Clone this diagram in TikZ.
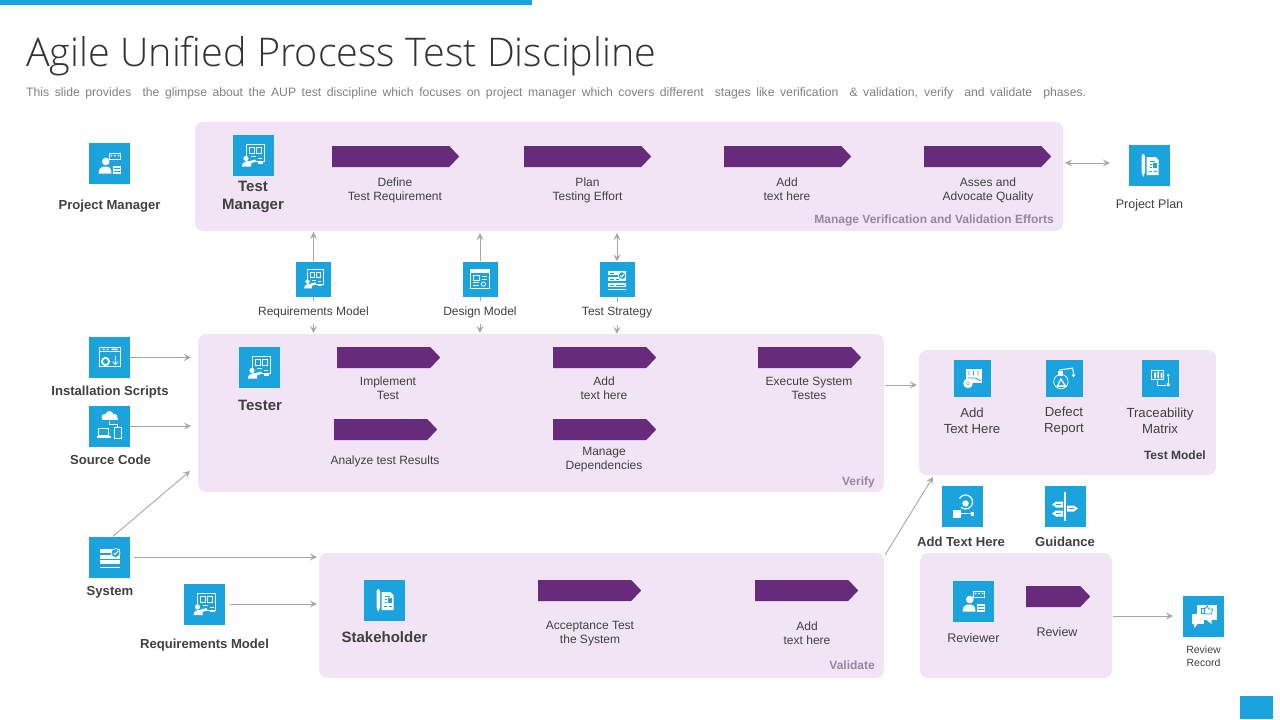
\documentclass[tikz,border=0pt]{standalone}
\usepackage{fontspec}
\setmainfont{Liberation Sans}
\newfontfamily\titlefont{Open Sans Light}
\usetikzlibrary{arrows.meta, shapes.symbols}
\definecolor{slideBlue}{RGB}{27,163,221}
\definecolor{panelLilac}{RGB}{240,228,245}
\definecolor{chevPurple}{RGB}{104,42,122}
\definecolor{labelGrey}{RGB}{64,64,64}
\definecolor{noteGrey}{RGB}{128,128,128}
\definecolor{tagGrey}{RGB}{150,135,160}
\definecolor{lineGrey}{RGB}{166,166,166}

\tikzset{
	glyph/.style={draw=white, line width=0.7pt, fill=none},
	whitefill/.style={fill=white, draw=none},
	% person in front of a board
	personBoard/.pic={
		\draw[glyph] (-7,-11) rectangle (11,6);
		\draw[glyph] (-4,-8) rectangle (1,-2);
		\draw[glyph] (3,-8) rectangle (8,-2);
		\draw[glyph] (-2,1) -- (3,1) (5,3) -- (9,3);
		\fill[whitefill] (-7,3) circle (2.6);
		\fill[whitefill] (-11,11) .. controls (-11,7) and (-8,6) .. (-5,6) -- (2,4) -- (3,6) -- (-2,8) -- (-2,11) -- cycle;
		\fill[whitefill] (5,6) rectangle (10,8);
	},
	% woman with bubble and sheet
	womanDoc/.pic={
		\fill[whitefill] (-3.7,-2) circle (3.8);
		\fill[whitefill] (-11,10) .. controls (-11,4) and (-7,3) .. (-4,3) .. controls (-1,3) and (2,4) .. (2,10) -- cycle;
		\draw[glyph] (0,-10) rectangle (11,-4);
		\fill[whitefill] (2,-8) circle (1) (5.5,-8) circle (1) (9,-8) circle (1);
		\fill[whitefill] (3,2) rectangle (11,10);
		\draw[slideBlue, line width=0.6pt] (4,5) -- (10,5) (4,7.5) -- (10,7.5);
	},
	gearWin/.pic={
		\draw[glyph] (-10,-10) rectangle (10.5,9);
		\draw[glyph] (-10,-6) -- (10.5,-6);
		\fill[whitefill] (-7,-9) rectangle (-5,-7.5) (-3,-9) rectangle (-1,-7.5) (2,-9) rectangle (8,-7.5);
		\draw[white, line width=1.8pt] (-4,4) circle (3.6);
		\draw[white, line width=1pt] (6,-2) -- (6,6);
		\draw[white, line width=1pt] (3,4) -- (6,7) -- (9,4);
	},
	cloudDev/.pic={
		\fill[whitefill] (-8,-6) rectangle (8,-8);
		\fill[whitefill] (-5,-9) circle (3) (0,-11) circle (4) (5,-9) circle (3);
		\draw[glyph] (-11,2) rectangle (-1,9);
		\draw[white, line width=1.2pt] (-13,11) -- (1,11);
		\draw[glyph] (5,1) rectangle (12,12);
		\draw[glyph] (0,-5) -- (0,-2) -- (8,-2) -- (8,1);
	},
	serverCheck/.pic={
		\fill[whitefill] (-10,-8) rectangle (10.5,-4);
		\fill[whitefill] (-10,-2.5) rectangle (10.5,1.5);
		\fill[whitefill] (-10,3) rectangle (10.5,7);
		\draw[glyph, fill=slideBlue] (6,-4) circle (4.5);
		\draw[white, line width=1pt] (4,-4) -- (5.5,-2.5) -- (8.5,-6);
		\draw[white, line width=0.7pt] (-10,10) -- (10.5,10);
	},
	% sheet with a pen beside it
	docPen/.pic={
		\fill[whitefill] (-3,-8) -- (6,-8) -- (9,-5) -- (9,10) -- (-3,10) -- cycle;
		\draw[slideBlue, line width=0.8pt] (0,-4) -- (5,-4) (0,-1) -- (2,-1) (0,2) -- (2,2) (-1,6) -- (2,6) (4,6) -- (7,6);
		\fill[slideBlue] (3,-2) rectangle (7,3);
		\fill[whitefill] (-8,-8) .. controls (-8,-12) and (-4.5,-12) .. (-4.5,-8) -- (-4.5,7) -- (-6.2,12) -- (-8,7) -- cycle;
	},
	designWin/.pic={
		\draw[glyph] (-11,-11) rectangle (11,11);
		\fill[whitefill] (-11,-11) rectangle (11,-7);
		\draw[glyph] (-8,-4) rectangle (-1,1);
		\draw[white, line width=0.8pt] (2,-3) -- (8,-3) (2,0) -- (8,0) (-8,4) -- (-1,4) (-8,7) -- (-1,7);
		\draw[glyph] (4,6) circle (2.5);
	},
	stratList/.pic={
		\fill[whitefill] (-11,-9) rectangle (11,-5);
		\fill[whitefill] (-11,-2) rectangle (11,2);
		\fill[whitefill] (-11,5) rectangle (11,9);
		\draw[slideBlue, line width=0.8pt] (-8,-7) -- (-4,-7) (-8,0) -- (-4,0) (-1,0) -- (2,0) (-8,7) -- (-4,7) (-1,7) -- (9,7);
		\draw[glyph, fill=slideBlue] (6,-4) circle (4.5);
		\draw[white, line width=1pt] (4,-4) -- (5.5,-2.5) -- (8.5,-6);
		\draw[white, line width=0.7pt] (-11,12) -- (11,12);
	},
	chartGear/.pic={
		\fill[whitefill] (-7,-10) rectangle (11,5);
		\draw[slideBlue, line width=0.8pt] (-4,-8) -- (-4,-3) (1,-8) -- (1,-3) (6,-8) -- (6,-3) (-5,0) -- (3,0) -- (9,3);
		\draw[white, line width=3pt, fill=slideBlue] (-5,6) circle (3.5);
		\fill[whitefill] (-5,6) circle (1.2);
	},
	robotArm/.pic={
		\draw[white, line width=1.3pt] (-8,9) -- (-4,1) -- (1,9) -- cycle;
		\fill[whitefill] (-7,-8) rectangle (-2,-2);
		\draw[white, line width=1pt] (-5,-3) -- (-5,-9) -- (9,-11) -- (10,-5);
		\fill[whitefill] (10,-3) circle (2);
		\draw[glyph] (-4,4) circle (8);
	},
	gridChart/.pic={
		\draw[glyph] (-10,-8) rectangle (3,2);
		\fill[whitefill] (-7,-6) rectangle (-5,0) (-3.5,-7) rectangle (-1.5,0) (0,-6) rectangle (2,0);
		\fill[whitefill] (8.5,-3) circle (1.6) (7,6) rectangle (10,9);
		\draw[white, line width=0.6pt] (8.5,-1) -- (8.5,5);
		\draw[white, line width=0.6pt] (-4,3) -- (-4,8) -- (6,8);
	},
	discBox/.pic={
		\draw[white, line width=1.2pt] (-3,-8) arc (-150:130:7);
		\fill[whitefill] (3,-3) circle (3.2);
		\fill[whitefill] (-10,3) rectangle (-2,11);
		\draw[white, line width=1pt] (-2,7) -- (9,7);
		\fill[whitefill] (8,5) rectangle (11,9);
	},
	signPost/.pic={
		\fill[whitefill] (-0.8,-15) rectangle (0.8,14);
		\fill[whitefill] (-2,-5) -- (-9,-5) -- (-13,-2) -- (-9,1) -- (-2,1) -- cycle;
		\fill[whitefill] (2,-1) -- (9,-1) -- (13,2) -- (9,5) -- (2,5) -- cycle;
		\fill[whitefill] (-2,4) -- (-9,4) -- (-13,7) -- (-9,10) -- (-2,10) -- cycle;
		\draw[slideBlue, line width=0.6pt] (-9,-2) -- (-4,-2) (4,2) -- (9,2) (-9,7) -- (-4,7);
	},
	thumbBubble/.pic={
		\fill[whitefill] (-7,-11) rectangle (13,4);
		\fill[whitefill] (3,4) -- (8,4) -- (8,8) -- cycle;
		\draw[slideBlue, line width=0.8pt] (-2,-3) rectangle (1,-7.5);
		\draw[slideBlue, line width=0.8pt] (1,-7) -- (4,-10) -- (5,-7) -- (9,-7) -- (8,-2) -- (1,-2);
		\fill[whitefill] (-12,-2) rectangle (0,8);
		\fill[whitefill] (-10,8) -- (-6,8) -- (-9,12) -- cycle;
	}
}

\begin{document}
\begin{tikzpicture}[
		x=1pt, y=-1pt,
		% boxes and icons
		panel/.style={
			rectangle, rounded corners=8pt,
			fill=panelLilac,
			inner sep=0pt
		},
		iconBox/.style={
			rectangle,
			minimum size=41pt,
			inner sep=0pt,
			fill=slideBlue
		},
		smallIcon/.style={
			iconBox,
			minimum size=35pt
		},
		midIcon/.style={
			iconBox,
			minimum size=37pt
		},
		chevron/.style={
			signal, signal to=east,
			signal pointer angle=93,
			anchor=west,
			minimum height=21pt,
			inner sep=0pt,
			fill=chevPurple
		},
		% texts
		txt/.style={
			align=center, inner sep=0pt,
			text=labelGrey,
			font=\fontsize{12}{14}\selectfont
		},
		overTxt/.style={
			txt,
			fill=white,
			minimum height=23pt
		},
		midTxt/.style={
			txt,
			font=\fontsize{13.2}{16}\selectfont
		},
		boldTxt/.style={
			txt,
			font=\fontsize{13.1}{15}\selectfont\bfseries
		},
		roleTxt/.style={
			txt,
			font=\fontsize{15}{18}\selectfont\bfseries
		},
		tagTxt/.style={
			txt, anchor=east,
			text=tagGrey,
			font=\fontsize{12}{14}\selectfont\bfseries
		},
		% connectors
		flow/.style={
			draw=lineGrey, line width=0.9pt,
			-{Stealth[length=7pt, width=7pt, inset=3pt]}
		},
		flowBoth/.style={
			flow,
			{Stealth[length=7pt, width=7pt, inset=3pt]}-{Stealth[length=7pt, width=7pt, inset=3pt]}
		}
		]
		\useasboundingbox (0,0) rectangle (1280,720);
		
		% title part
		\fill[slideBlue] (0,0) rectangle (532,5);
		\fill[slideBlue] (1240,696) rectangle (1273,719);
		\node[anchor=base west, inner sep=0pt, text=black!80, font=\titlefont\fontsize{39.5}{44}\selectfont] (title) at (26,66) {Agile Unified Process Test Discipline};
		\node[anchor=west, inner sep=0pt, text=noteGrey, font=\fontsize{12.2}{14}\selectfont] (subtitle) at (26,93) {\makebox[1060pt][s]{This slide provides\ \ the glimpse about the AUP test discipline which focuses on project manager which covers different\ \ stages like verification\ \ \& validation, verify\ \ and validate\ \ phases.}};
		
		% the five panels
		\node[panel, minimum width=868pt, minimum height=109pt] (managePanel) at (629,176.5) {};
		\node[panel, minimum width=686pt, minimum height=158pt] (verifyPanel) at (541,413) {};
		\node[panel, minimum width=565pt, minimum height=125pt] (validatePanel) at (601.5,615.5) {};
		\node[panel, minimum width=297pt, minimum height=125pt] (modelPanel) at (1067.5,412.5) {};
		\node[panel, minimum width=192pt, minimum height=125pt] (reviewPanel) at (1016,615.5) {};
		
		% top row
		\node[iconBox] (managerIcon) at (109.5,163.5) {};
		\pic at (managerIcon) {womanDoc};
		\node[boldTxt] (managerTxt) at (109.5,206) {Project Manager};
		\node[iconBox] (testerBossIcon) at (253,155.5) {};
		\pic at (testerBossIcon) {personBoard};
		\node[roleTxt] (testerBossTxt) at (253,196.5) {Test\\Manager};
		\node[chevron, minimum width=127pt] (defineChev) at (332,156.5) {};
		\node[txt] (defineTxt) at (395,190) {Define\\Test Requirement};
		\node[chevron, minimum width=127pt] (planChev) at (524,156.5) {};
		\node[txt] (planTxt) at (587.5,190) {Plan\\Testing Effort};
		\node[chevron, minimum width=127pt] (addChev) at (724,156.5) {};
		\node[txt] (addTxt) at (787,189) {Add\\text here};
		\node[chevron, minimum width=127pt] (assessChev) at (924,156.5) {};
		\node[txt] (assessTxt) at (988,190) {Asses and\\Advocate Quality};
		\node[tagTxt] (manageTag) at (1054,220) {Manage Verification and Validation Efforts};
		\node[iconBox] (planIcon) at (1149.5,165) {};
		\pic at (planIcon) {docPen};
		\node[txt, font=\fontsize{12.5}{15}\selectfont] (planLabel) at (1149.5,205) {Project Plan};
		
		% artefacts between the panels
		\node[smallIcon] (reqIcon) at (313.5,279) {};
		\pic[scale=.85] at (reqIcon) {personBoard};
		\node[smallIcon] (designIcon) at (480,279) {};
		\pic[scale=.85] at (designIcon) {designWin};
		\node[smallIcon] (strategyIcon) at (617,279) {};
		\pic[scale=.85] at (strategyIcon) {stratList};
		\draw[flow, shorten >=1pt] (reqIcon.south) -- (verifyPanel.north -| reqIcon);
		\draw[flow, shorten >=1pt] (designIcon.south) -- (verifyPanel.north -| designIcon);
		\draw[flow] (strategyIcon.south) -- (verifyPanel.north -| strategyIcon);
		\node[overTxt] (reqTxt) at (313.5,312) {Requirements Model};
		\node[overTxt] (designTxt) at (480,312) {Design Model};
		\node[overTxt] (strategyTxt) at (617,313) {Test Strategy};
		
		% left inputs
		\node[iconBox] (scriptIcon) at (109.5,357.5) {};
		\pic at (scriptIcon) {gearWin};
		\node[boldTxt] (scriptTxt) at (110,392) {Installation Scripts};
		\node[iconBox] (sourceIcon) at (109.5,426) {};
		\pic at (sourceIcon) {cloudDev};
		\node[boldTxt] (sourceTxt) at (110.5,460) {Source Code};
		\node[iconBox] (systemIcon) at (109.5,557) {};
		\pic at (systemIcon) {serverCheck};
		\node[boldTxt] (systemTxt) at (110,592) {System};
		\node[iconBox] (inputIcon) at (204.5,604) {};
		\pic at (inputIcon) {personBoard};
		\node[boldTxt] (inputTxt) at (204.5,645) {Requirements Model};
		
		% verify panel
		\node[iconBox] (testerIcon) at (259,367.5) {};
		\pic at (testerIcon) {personBoard};
		\node[roleTxt] (testerTxt) at (260,405) {Tester};
		\node[chevron, minimum width=103pt] (implementChev) at (337,357.5) {};
		\node[txt] (implementTxt) at (388,388) {Implement\\Test};
		\node[chevron, minimum width=103pt] (hereChev) at (553,357.5) {};
		\node[txt] (hereTxt) at (604,388) {Add\\text here};
		\node[chevron, minimum width=103pt] (executeChev) at (758,357.5) {};
		\node[txt] (executeTxt) at (809,388) {Execute System\\Testes};
		\node[chevron, minimum width=103pt] (analyzeChev) at (334,429.5) {};
		\node[txt] (analyzeTxt) at (385,461) {Analyze test Results};
		\node[chevron, minimum width=103pt] (dependChev) at (553,429.5) {};
		\node[txt] (dependTxt) at (604,460) {Manage\\Dependencies};
		\node[tagTxt] (verifyTag) at (875,482) {Verify};
		
		% validate panel
		\node[iconBox] (holderIcon) at (384.5,600) {};
		\pic at (holderIcon) {docPen};
		\node[roleTxt] (holderTxt) at (384.5,637) {Stakeholder};
		\node[chevron, minimum width=103pt] (acceptChev) at (538,590.5) {};
		\node[txt] (acceptTxt) at (590,634) {Acceptance Test\\the System};
		\node[chevron, minimum width=103pt] (moreChev) at (755,590.5) {};
		\node[txt] (moreTxt) at (807,633) {Add\\text here};
		\node[tagTxt] (validateTag) at (875,665) {Validate};
		
		% test model panel
		\node[midIcon] (chartIcon) at (972.5,378) {};
		\pic[scale=.9] at (chartIcon) {chartGear};
		\node[midTxt] (chartTxt) at (972,420.5) {Add\\Text Here};
		\node[midIcon] (defectIcon) at (1064.5,378) {};
		\pic[scale=.9] at (defectIcon) {robotArm};
		\node[midTxt] (defectTxt) at (1064,421) {Defect\\Report};
		\node[midIcon] (traceIcon) at (1160.5,378) {};
		\pic[scale=.9] at (traceIcon) {gridChart};
		\node[midTxt] (traceTxt) at (1160,420.5) {Traceability\\Matrix};
		\node[tagTxt, text=labelGrey] (modelTag) at (1206,455) {Test Model};
		
		% below the test model
		\node[iconBox] (discIcon) at (962.5,506.5) {};
		\pic at (discIcon) {discBox};
		\node[boldTxt] (discTxt) at (961,542) {Add Text Here};
		\node[iconBox] (guideIcon) at (1065,506.5) {};
		\pic at (guideIcon) {signPost};
		\node[boldTxt] (guideTxt) at (1065,542) {Guidance};
		
		% review panel
		\node[iconBox] (reviewerIcon) at (973.5,601.5) {};
		\pic at (reviewerIcon) {womanDoc};
		\node[txt, font=\fontsize{12.5}{15}\selectfont] (reviewerTxt) at (973.5,638) {Reviewer};
		\node[chevron, minimum width=64pt] (reviewChev) at (1026,596.5) {};
		\node[txt, font=\fontsize{12.5}{15}\selectfont] (reviewTxt) at (1057,632.5) {Review};
		\node[iconBox] (recordIcon) at (1203.5,616) {};
		\pic at (recordIcon) {thumbBubble};
		\node[txt, font=\fontsize{10.5}{13}\selectfont] (recordTxt) at (1203.5,656) {Review\\Record};
		
		% connectors
		\draw[flowBoth, shorten <=2pt, shorten >=19pt] ([yshift=2pt]managePanel.east |- planIcon.west) -- ([yshift=2pt]planIcon.west);
		\draw[flow, shorten >=1pt] (reqIcon.north) -- (managePanel.south -| reqIcon);
		\draw[flow, shorten >=2pt] (designIcon.north) -- (managePanel.south -| designIcon);
		\draw[flowBoth, shorten >=2pt] (strategyIcon.north) -- (managePanel.south -| strategyIcon);
		\draw[flow, shorten >=7pt] (scriptIcon.east) -- (verifyPanel.west |- scriptIcon);
		\draw[flow, shorten >=7pt] (sourceIcon.east) -- (verifyPanel.west |- sourceIcon);
		\coordinate (verifyIn) at (190,471);
		\draw[flow] ([xshift=3.5pt]systemIcon.north) -- (verifyIn);
		\draw[flow, shorten <=4pt, shorten >=2pt] (systemIcon.east) -- (validatePanel.west |- systemIcon);
		\draw[flow, shorten <=5pt, shorten >=2pt] (inputIcon.east) -- (validatePanel.west |- inputIcon);
		\coordinate (verifyOut) at (885,385);
		\draw[flow, shorten >=2pt] (verifyOut) -- (modelPanel.west |- verifyOut);
		\coordinate (validateOut) at (885,555);
		\coordinate (modelIn) at (933,477);
		\draw[flow] (validateOut) -- (modelIn);
		\draw[flow, shorten <=1pt, shorten >=10pt] (reviewPanel.east |- recordIcon.west) -- (recordIcon.west);
		
\end{tikzpicture}
\end{document}
